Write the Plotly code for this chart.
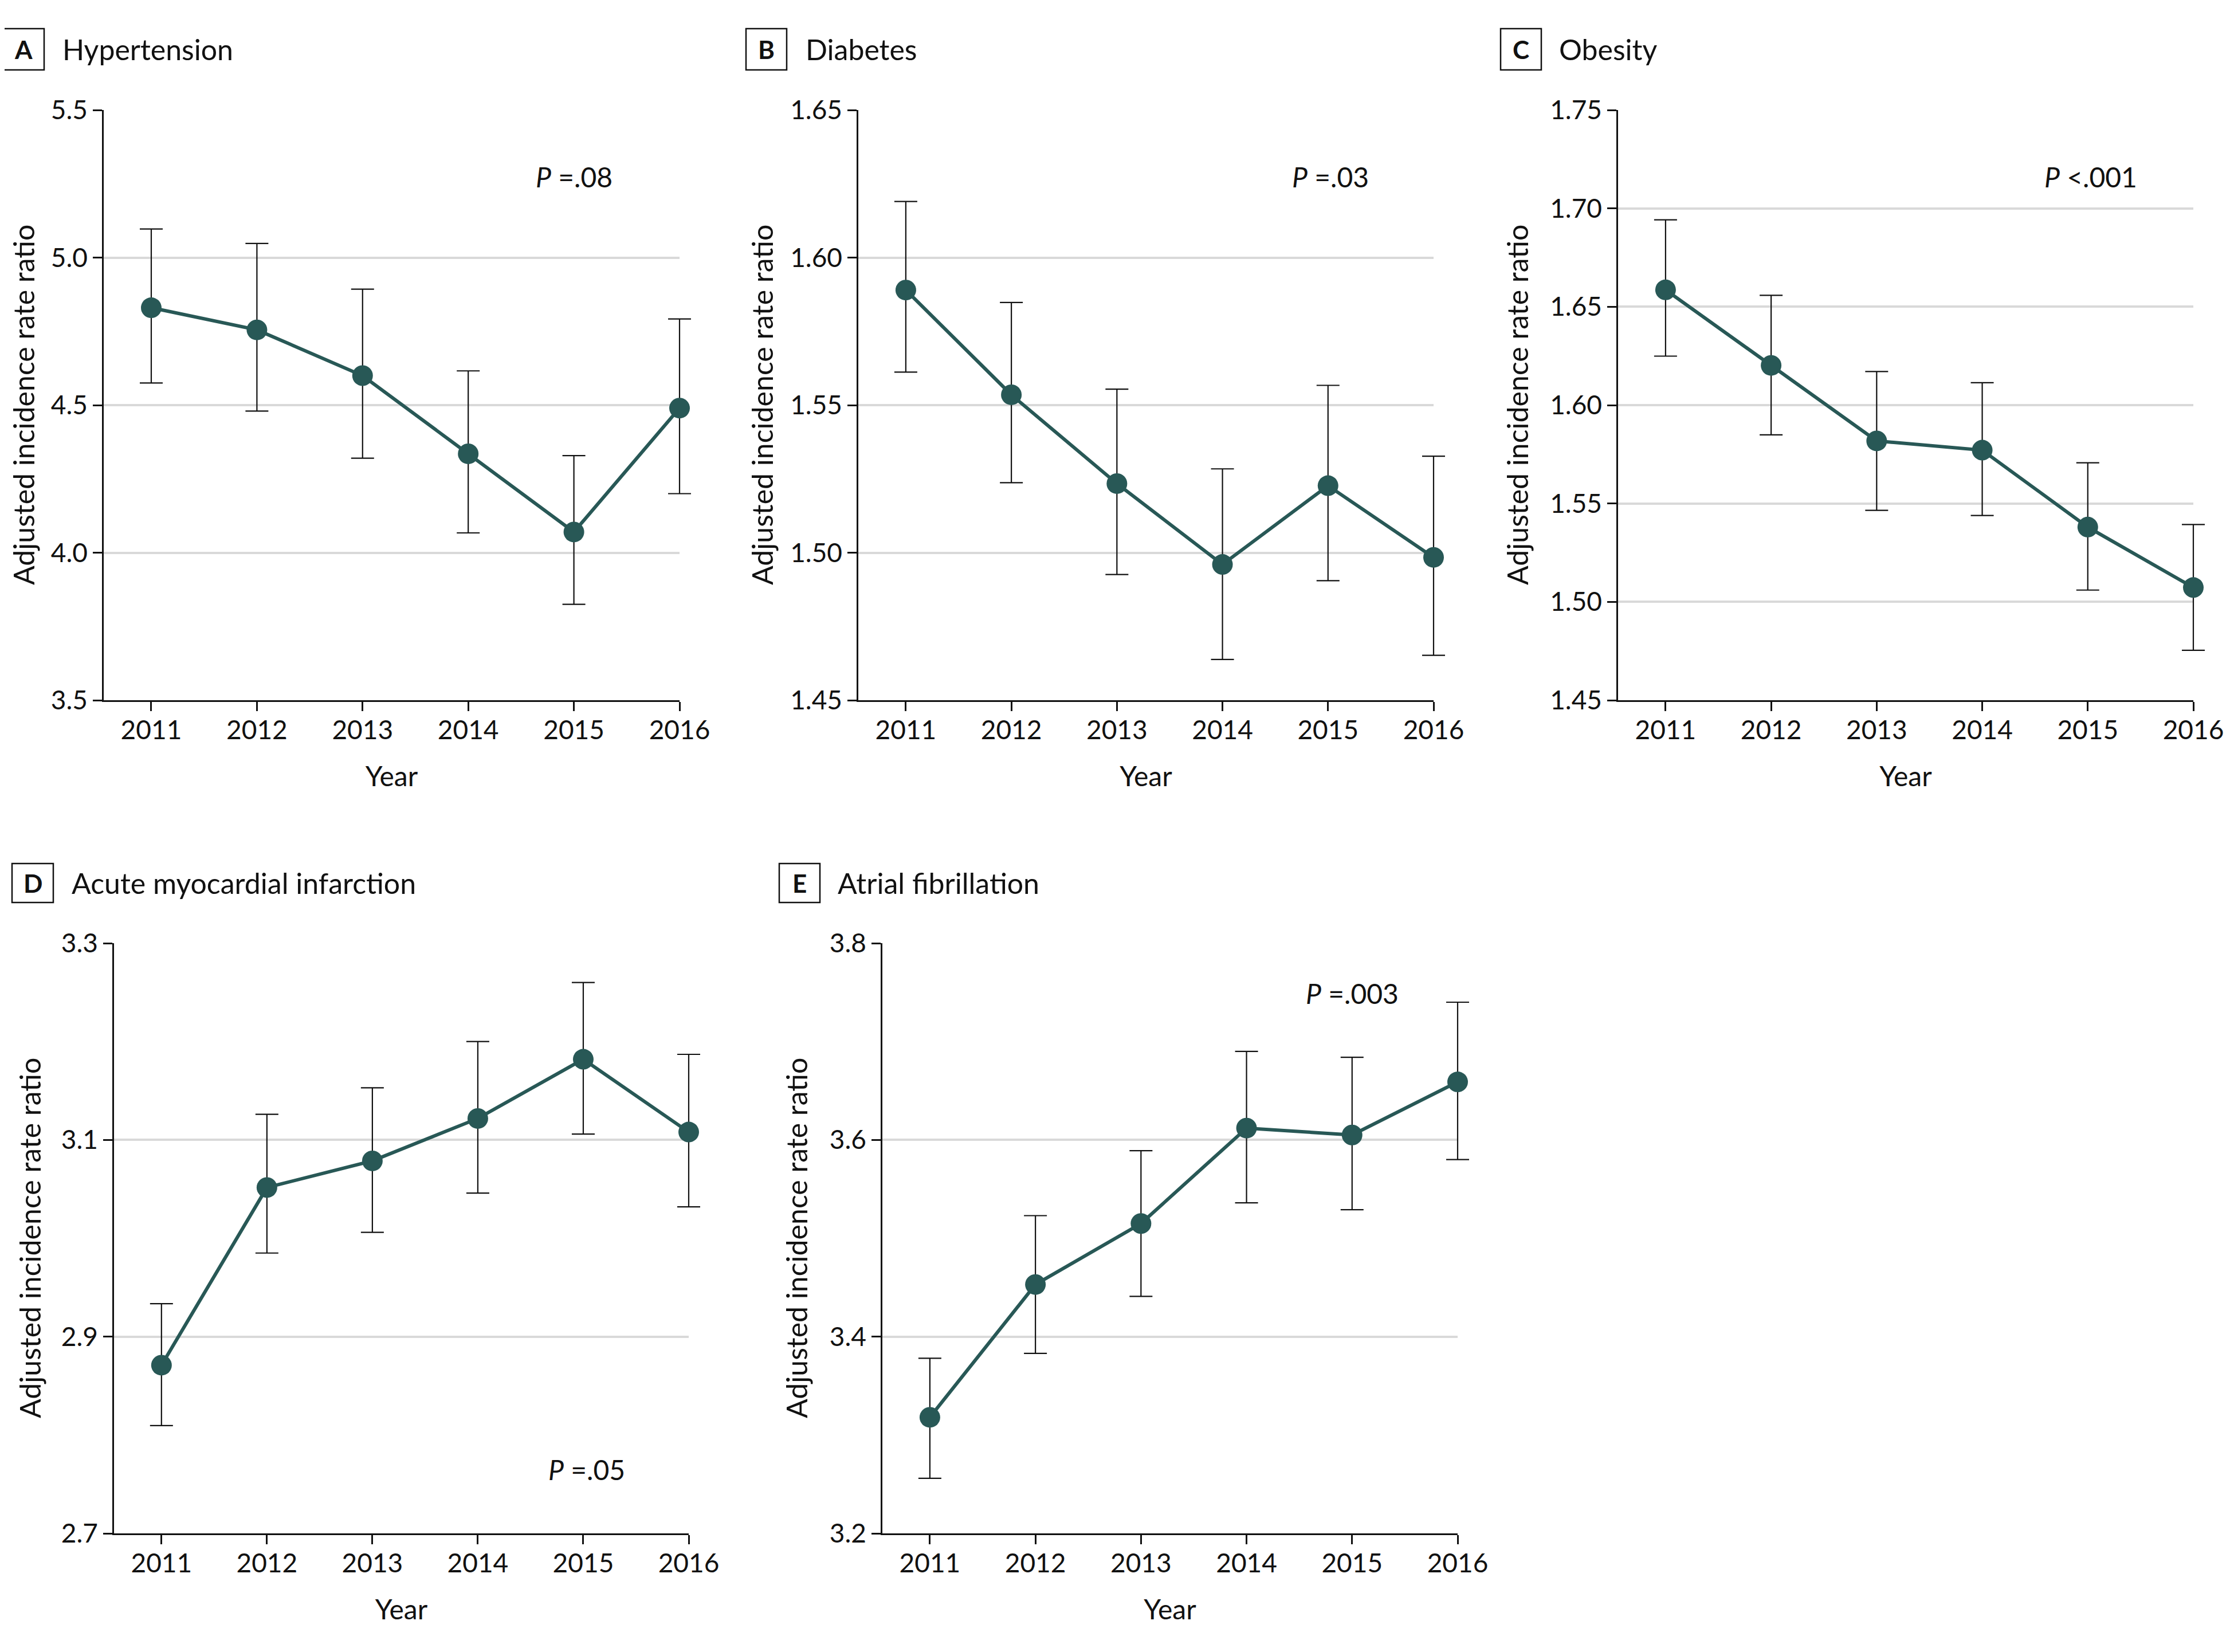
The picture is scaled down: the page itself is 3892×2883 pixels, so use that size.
import plotly.graph_objects as go

years = [2011, 2012, 2013, 2014, 2015, 2016]

# Panel A - Hypertension
hyp_mean = [4.83, 4.755, 4.60, 4.335, 4.07, 4.49]
hyp_low = [4.575, 4.48, 4.32, 4.067, 3.825, 4.20]
hyp_high = [5.097, 5.048, 4.893, 4.616, 4.329, 4.792]
hyp_ticks = [3.5, 4.0, 4.5, 5.0, 5.5]

# Panel B - Diabetes
dia_mean = [1.589, 1.5535, 1.5234, 1.496, 1.5227, 1.4984]
dia_low = [1.5612, 1.5237, 1.4926, 1.4638, 1.4905, 1.4652]
dia_high = [1.619, 1.5848, 1.5554, 1.5284, 1.5567, 1.5327]
dia_ticks = [1.45, 1.50, 1.55, 1.60, 1.65]

# Panel C - Obesity
obe_mean = [1.6586, 1.6202, 1.5818, 1.5771, 1.538, 1.5073]
obe_low = [1.6249, 1.5849, 1.5465, 1.5439, 1.506, 1.4754]
obe_high = [1.6942, 1.6558, 1.6171, 1.6114, 1.5707, 1.5393]
obe_ticks = [1.45, 1.50, 1.55, 1.60, 1.65, 1.70, 1.75]

# Panel D - Acute myocardial infarction
ami_mean = [2.871, 3.0516, 3.0787, 3.1218, 3.182, 3.108]
ami_low = [2.8096, 2.985, 3.006, 3.046, 3.106, 3.032]
ami_high = [2.9335, 3.126, 3.153, 3.200, 3.260, 3.187]
ami_ticks = [2.7, 2.9, 3.1, 3.3]

# Panel E - Atrial fibrillation
af_mean = [3.318, 3.453, 3.515, 3.612, 3.605, 3.659]
af_low = [3.256, 3.383, 3.441, 3.536, 3.529, 3.580]
af_high = [3.378, 3.523, 3.589, 3.690, 3.684, 3.740]
af_ticks = [3.2, 3.4, 3.6, 3.8]

letters = ["A", "B", "C", "D", "E"]
titles = ["Hypertension", "Diabetes", "Obesity", "Acute myocardial infarction", "Atrial fibrillation"]
p_texts = ["<i>P</i> =.08", "<i>P</i> =.03", "<i>P</i> <.001", "<i>P</i> =.05", "<i>P</i> =.003"]
p_pos = [(2014.63, 5.273), (2014.65, 1.6273), (2014.58, 1.716), (2014.66, 2.765), (2014.55, 3.749)]
y_title = "Adjusted incidence rate ratio"
x_title = "Year"

PAGE_W, PAGE_H = 3892, 2883
OFF = 8  # default page body margin
W, H = PAGE_W - 2 * OFF, PAGE_H - 2 * OFF
FONT = "Lato"
TXT = "#111111"
LINE_COLOR = "#285856"
X0, X1 = 2010.55, 2016
EXT = 50  # px of extra room for the invisible data layer (so end caps are not clipped)


def fx(px):
    return (px - OFF) / W


def fy(py):
    return 1 - (py - OFF) / H


panels = [
    dict(mean=hyp_mean, low=hyp_low, high=hyp_high, ticks=hyp_ticks, fmt=".1f",
         px=(181, 1186), py=(192, 1222), box=(4, 77, 50, 122), tx=107, ytx=41),
    dict(mean=dia_mean, low=dia_low, high=dia_high, ticks=dia_ticks, fmt=".2f",
         px=(1498, 2502), py=(192, 1222), box=(1302, 1373, 50, 122), tx=1404, ytx=1330),
    dict(mean=obe_mean, low=obe_low, high=obe_high, ticks=obe_ticks, fmt=".2f",
         px=(2824, 3828), py=(192, 1222), box=(2619, 2690, 50, 122), tx=2719, ytx=2648),
    dict(mean=ami_mean, low=ami_low, high=ami_high, ticks=ami_ticks, fmt=".1f",
         px=(199, 1202), py=(1646, 2676), box=(21, 93, 1507, 1575), tx=123, ytx=52),
    dict(mean=af_mean, low=af_low, high=af_high, ticks=af_ticks, fmt=".1f",
         px=(1540, 2544), py=(1646, 2676), box=(1360, 1431, 1507, 1575), tx=1460, ytx=1390),
]

fig = go.Figure()
shapes = []
annotations = []
layout_axes = {}
NP = len(panels)

for i, p in enumerate(panels):
    n = i + 1
    m = i + 1 + NP  # invisible data layer axes
    xa = "x" if n == 1 else f"x{n}"
    ya = "y" if n == 1 else f"y{n}"
    xkey = "xaxis" if n == 1 else f"xaxis{n}"
    ykey = "yaxis" if n == 1 else f"yaxis{n}"
    xo, yo = f"x{m}", f"y{m}"

    xdom = [fx(p["px"][0]), fx(p["px"][1])]
    ydom = [fy(p["py"][1]), fy(p["py"][0])]
    ymin, ymax = p["ticks"][0], p["ticks"][-1]

    # visible axes
    layout_axes[xkey] = dict(
        domain=xdom, anchor=ya, range=[X0, X1],
        tickvals=years, ticktext=[str(y) for y in years],
        showline=True, linecolor=TXT, linewidth=2.5,
        ticks="outside", ticklen=16, tickwidth=2.5, tickcolor=TXT,
        showgrid=False, zeroline=False, automargin=False,
        tickfont=dict(family=FONT, size=46, color=TXT),
        ticklabelstandoff=-6,
        title=dict(text=x_title, font=dict(family=FONT, size=48, color=TXT), standoff=40),
        fixedrange=True,
    )
    layout_axes[ykey] = dict(
        domain=ydom, anchor=xa, range=[ymin, ymax],
        tickvals=p["ticks"], tickformat=p["fmt"],
        showline=True, linecolor=TXT, linewidth=2.5,
        ticks="outside", ticklen=16, tickwidth=2.5, tickcolor=TXT,
        showgrid=True, gridcolor="#d9d9d9", gridwidth=3.5,
        zeroline=False, automargin=False,
        tickfont=dict(family=FONT, size=46, color=TXT),
        ticklabelstandoff=0,
        fixedrange=True,
    )

    # invisible data layer: same scale, slightly wider on the right
    px_per_year = (p["px"][1] - p["px"][0]) / (X1 - X0)
    right = min(1.0, fx(p["px"][1] + EXT))
    layout_axes[f"xaxis{m}"] = dict(
        domain=[xdom[0], right], anchor=yo,
        range=[X0, X1 + (right - xdom[1]) * W / px_per_year],
        visible=False, showgrid=False, zeroline=False, automargin=False, fixedrange=True,
    )
    layout_axes[f"yaxis{m}"] = dict(
        domain=ydom, anchor=xo, range=[ymin, ymax], visible=False,
        showgrid=False, zeroline=False, automargin=False, fixedrange=True,
    )

    err_plus = [h - v for h, v in zip(p["high"], p["mean"])]
    err_minus = [v - l for v, l in zip(p["mean"], p["low"])]
    fig.add_trace(go.Scatter(
        x=years, y=p["mean"], xaxis=xo, yaxis=yo,
        mode="lines+markers",
        line=dict(color=LINE_COLOR, width=6),
        marker=dict(color=LINE_COLOR, size=36),
        error_y=dict(type="data", array=err_plus, arrayminus=err_minus,
                     color=TXT, thickness=2.2, width=20, visible=True),
        cliponaxis=False, showlegend=False, hoverinfo="skip",
    ))

    # y-axis title
    annotations.append(dict(xref="paper", yref="paper",
                            x=fx(p["ytx"]), y=fy((p["py"][0] + p["py"][1]) / 2),
                            text=y_title, textangle=-90, showarrow=False,
                            xanchor="center", yanchor="middle", borderpad=0,
                            font=dict(family=FONT, size=50, color=TXT)))

    # letter box
    bx0, bx1, by0, by1 = p["box"]
    shapes.append(dict(type="rect", xref="paper", yref="paper",
                       x0=fx(bx0), x1=fx(bx1), y0=fy(by1), y1=fy(by0),
                       line=dict(color=TXT, width=2.5), fillcolor="rgba(0,0,0,0)"))
    annotations.append(dict(xref="paper", yref="paper",
                            x=fx((bx0 + bx1) / 2), y=fy((by0 + by1) / 2),
                            text=f"<b>{letters[i]}</b>", showarrow=False,
                            xanchor="center", yanchor="middle",
                            font=dict(family=FONT, size=44, color=TXT)))
    annotations.append(dict(xref="paper", yref="paper",
                            x=fx(p["tx"]), y=fy((by0 + by1) / 2),
                            text=titles[i], showarrow=False,
                            xanchor="left", yanchor="middle",
                            font=dict(family=FONT, size=50, color=TXT)))
    # P value
    annotations.append(dict(xref=xa, yref=ya, x=p_pos[i][0], y=p_pos[i][1],
                            text=p_texts[i], showarrow=False,
                            xanchor="left", yanchor="middle",
                            font=dict(family=FONT, size=48, color=TXT)))

fig.update_layout(
    width=W, height=H,
    margin=dict(l=0, r=0, t=0, b=0, autoexpand=False),
    paper_bgcolor="white", plot_bgcolor="rgba(0,0,0,0)",
    shapes=shapes, annotations=annotations,
    **layout_axes,
)

fig.write_html("out.html", config={"displayModeBar": False})
